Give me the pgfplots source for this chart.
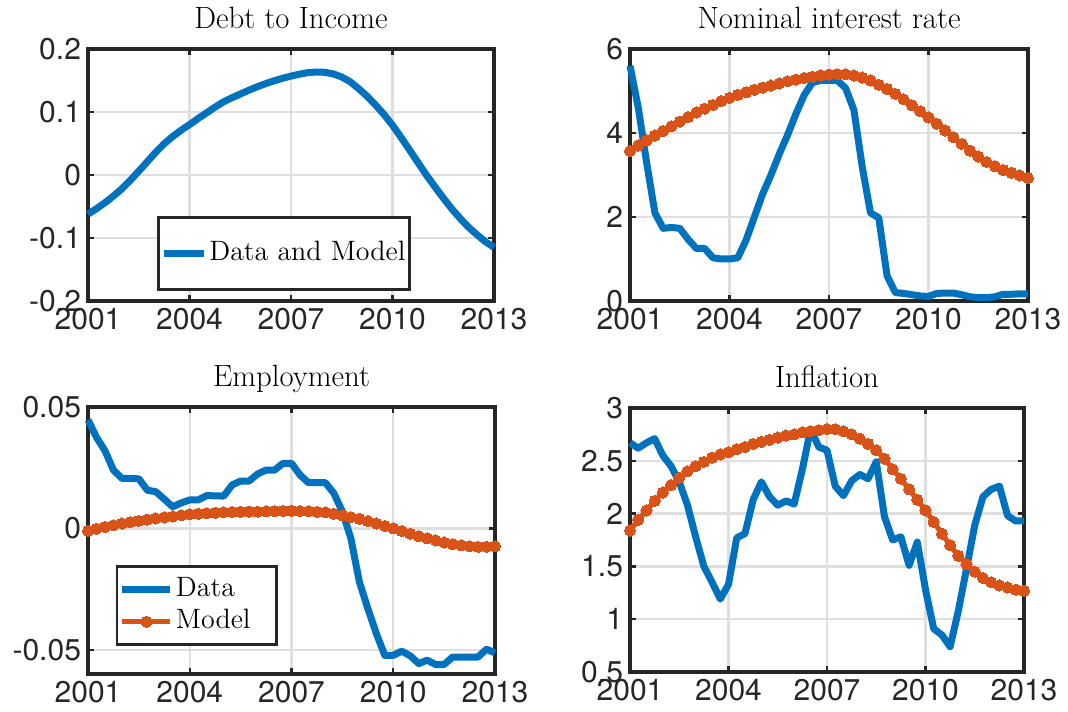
\documentclass[border=0pt]{standalone}
\usepackage{fontspec}
\usepackage{pgfplots}
\usepackage{pgfplotstable}
\pgfplotsset{compat=1.18}
\newfontfamily\helv{TeX Gyre Heros}
\definecolor{mblue}{HTML}{0072BD}
\definecolor{morange}{HTML}{D95319}
\definecolor{axgray}{HTML}{262626}
\definecolor{gridgray}{HTML}{DFDFDF}

% quarterly series, 2001Q1--2013Q1
\pgfplotstableread{
t       data
2001.00 -0.0620
2001.25 -0.0535
2001.50 -0.0440
2001.75 -0.0335
2002.00 -0.0220
2002.25 -0.0085
2002.50 0.0060
2002.75 0.0210
2003.00 0.0360
2003.25 0.0495
2003.50 0.0610
2003.75 0.0710
2004.00 0.0800
2004.25 0.0895
2004.50 0.0985
2004.75 0.1075
2005.00 0.1160
2005.25 0.1225
2005.50 0.1285
2005.75 0.1345
2006.00 0.1400
2006.25 0.1450
2006.50 0.1495
2006.75 0.1535
2007.00 0.1570
2007.25 0.1600
2007.50 0.1625
2007.75 0.1635
2008.00 0.1630
2008.25 0.1605
2008.50 0.1555
2008.75 0.1480
2009.00 0.1370
2009.25 0.1250
2009.50 0.1110
2009.75 0.0960
2010.00 0.0790
2010.25 0.0600
2010.50 0.0400
2010.75 0.0200
2011.00 0.0000
2011.25 -0.0185
2011.50 -0.0365
2011.75 -0.0535
2012.00 -0.0690
2012.25 -0.0830
2012.50 -0.0950
2012.75 -0.1060
2013.00 -0.1150
}\debttab

\pgfplotstableread{
t       data  model
2001.00 5.60  3.57
2001.25 4.60  3.70
2001.50 3.30  3.82
2001.75 2.10  3.94
2002.00 1.73  4.05
2002.25 1.75  4.16
2002.50 1.73  4.27
2002.75 1.47  4.38
2003.00 1.25  4.49
2003.25 1.25  4.58
2003.50 1.03  4.67
2003.75 1.00  4.76
2004.00 1.00  4.84
2004.25 1.03  4.91
2004.50 1.45  4.97
2004.75 2.00  5.03
2005.00 2.55  5.08
2005.25 3.00  5.13
2005.50 3.50  5.18
2005.75 3.95  5.23
2006.00 4.45  5.27
2006.25 4.90  5.31
2006.50 5.20  5.34
2006.75 5.25  5.37
2007.00 5.25  5.39
2007.25 5.25  5.40
2007.50 5.07  5.40
2007.75 4.55  5.37
2008.00 3.20  5.32
2008.25 2.10  5.25
2008.50 1.98  5.15
2008.75 0.60  5.05
2009.00 0.20  4.93
2009.25 0.18  4.80
2009.50 0.15  4.66
2009.75 0.12  4.52
2010.00 0.11  4.37
2010.25 0.18  4.22
2010.50 0.19  4.06
2010.75 0.19  3.90
2011.00 0.15  3.74
2011.25 0.10  3.58
2011.50 0.08  3.44
2011.75 0.08  3.31
2012.00 0.10  3.21
2012.25 0.16  3.12
2012.50 0.16  3.05
2012.75 0.17  2.99
2013.00 0.17  2.93
}\nomtab

\pgfplotstableread{
t       data     model
2001.00 0.0447  -0.0010
2001.25 0.0375  -0.0002
2001.50 0.0320   0.0006
2001.75 0.0240   0.0013
2002.00 0.0206   0.0020
2002.25 0.0206   0.0026
2002.50 0.0204   0.0031
2002.75 0.0157   0.0036
2003.00 0.0151   0.0041
2003.25 0.0120   0.0045
2003.50 0.0089   0.0049
2003.75 0.0105   0.0054
2004.00 0.0117   0.0058
2004.25 0.0117   0.0060
2004.50 0.0135   0.0062
2004.75 0.0134   0.0064
2005.00 0.0133   0.0066
2005.25 0.0179   0.0067
2005.50 0.0195   0.0068
2005.75 0.0195   0.0069
2006.00 0.0224   0.0069
2006.25 0.0240   0.0070
2006.50 0.0240   0.0071
2006.75 0.0268   0.0072
2007.00 0.0268   0.0072
2007.25 0.0220   0.0071
2007.50 0.0188   0.0070
2007.75 0.0188   0.0068
2008.00 0.0188   0.0066
2008.25 0.0144   0.0060
2008.50 0.0069   0.0053
2008.75 -0.0041  0.0046
2009.00 -0.0220  0.0039
2009.25 -0.0330  0.0030
2009.50 -0.0433  0.0020
2009.75 -0.0523  0.0010
2010.00 -0.0523  0.0000
2010.25 -0.0506 -0.0011
2010.50 -0.0525 -0.0022
2010.75 -0.0557 -0.0032
2011.00 -0.0543 -0.0041
2011.25 -0.0561 -0.0050
2011.50 -0.0561 -0.0058
2011.75 -0.0530 -0.0065
2012.00 -0.0530 -0.0070
2012.25 -0.0530 -0.0074
2012.50 -0.0530 -0.0076
2012.75 -0.0498 -0.0076
2013.00 -0.0513 -0.0074
}\emptab

\pgfplotstableread{
t       data  model
2001.00 2.67  1.84
2001.25 2.62  1.94
2001.50 2.67  2.03
2001.75 2.71  2.12
2002.00 2.55  2.20
2002.25 2.45  2.27
2002.50 2.30  2.34
2002.75 2.08  2.40
2003.00 1.78  2.45
2003.25 1.50  2.49
2003.50 1.35  2.53
2003.75 1.19  2.56
2004.00 1.33  2.58
2004.25 1.77  2.61
2004.50 1.81  2.63
2004.75 2.13  2.66
2005.00 2.30  2.68
2005.25 2.16  2.70
2005.50 2.08  2.72
2005.75 2.12  2.74
2006.00 2.09  2.75
2006.25 2.42  2.77
2006.50 2.80  2.78
2006.75 2.63  2.79
2007.00 2.60  2.80
2007.25 2.26  2.80
2007.50 2.17  2.78
2007.75 2.31  2.75
2008.00 2.37  2.71
2008.25 2.33  2.66
2008.50 2.49  2.60
2008.75 1.97  2.52
2009.00 1.75  2.42
2009.25 1.78  2.33
2009.50 1.51  2.23
2009.75 1.73  2.13
2010.00 1.28  2.03
2010.25 0.91  1.92
2010.50 0.85  1.81
2010.75 0.74  1.70
2011.00 1.08  1.60
2011.25 1.48  1.52
2011.50 1.89  1.45
2011.75 2.16  1.39
2012.00 2.23  1.35
2012.25 2.26  1.32
2012.50 1.98  1.30
2012.75 1.93  1.28
2013.00 1.93  1.27
}\inftab

\pgfplotsset{
  panel/.style={
    scale only axis, anchor=south west,
    xmin=2001, xmax=2013,
    xtick={2001,2004,2007,2010,2013},
    xticklabels={2001,2004,2007,2010,2013},
    scaled y ticks=false,
    tick align=inside, major tick length=3pt,
    axis line style={axgray, line width=1.8pt},
    every tick/.style={axgray, line width=1.2pt},
    grid=major, major grid style={gridgray, line width=1.2pt},
    tick label style={font=\helv\fontsize{15}{15}\selectfont, text=axgray},
    title style={font=\fontsize{15.4}{16}\selectfont, at={(0.5,1)}, anchor=base, yshift=4pt},
    clip=false,
    legend cell align=left,
    legend style={draw=axgray, line width=1.3pt, fill=white,
      font=\fontsize{14}{16}\selectfont, anchor=south west, inner xsep=1pt,
      nodes={text height=10pt, text depth=3pt, inner ysep=1.5pt, inner xsep=1pt}},
    legend image code/.code={\draw[mark repeat=2, mark phase=2]
      plot coordinates {(0pt,0pt) (10pt,0pt) (20pt,0pt)};},
  },
  datal/.style={mblue, line width=3.5pt, line join=round},
  modell/.style={morange, line width=2.6pt, line join=round, mark=*, mark size=2.8pt,
    mark options={fill=morange, draw=morange, line width=0pt}},
}

\begin{document}
\begin{tikzpicture}
\begin{axis}[panel, at={(44pt,205pt)}, width=203pt, height=126pt,
    title={Debt to Income},
    ymin=-0.2, ymax=0.2,
    ytick={-0.2,-0.1,0,0.1,0.2}, yticklabels={-0.2,-0.1,0,0.1,0.2},
    legend style={at={(0.170,0.040)}, inner ysep=10pt}]
  \addplot[datal] table[x=t, y=data] {\debttab};
  \addlegendentry{Data and Model}
\end{axis}

\begin{axis}[panel, at={(315pt,205pt)}, width=199pt, height=126pt,
    title={Nominal interest rate},
    ymin=0, ymax=6,
    ytick={0,2,4,6}, yticklabels={0,2,4,6}]
  \addplot[datal] table[x=t, y=data] {\nomtab};
  \addplot[modell] table[x=t, y=model] {\nomtab};
\end{axis}

\begin{axis}[panel, at={(44pt,18.5pt)}, width=203.5pt, height=133.5pt,
    title={Employment},
    ymin=-0.06, ymax=0.05,
    ytick={-0.05,0,0.05}, yticklabels={-0.05,0,0.05},
    legend style={at={(0.068,0.105)}, inner ysep=3.5pt},
    legend image code/.code={\draw[mark repeat=2, mark phase=2]
      plot coordinates {(0pt,0pt) (12pt,0pt) (24pt,0pt)};}]
  \addplot[datal] table[x=t, y=data] {\emptab};
  \addlegendentry{Data}
  \addplot[modell] table[x=t, y=model] {\emptab};
  \addlegendentry{Model\hspace*{11pt}}
\end{axis}

\begin{axis}[panel, at={(315pt,19.5pt)}, width=197pt, height=132pt,
    title={Inflation},
    ymin=0.5, ymax=3,
    ytick={0.5,1,1.5,2,2.5,3}, yticklabels={0.5,1,1.5,2,2.5,3}]
  \addplot[datal] table[x=t, y=data] {\inftab};
  \addplot[modell] table[x=t, y=model] {\inftab};
\end{axis}
\pgfresetboundingbox
\useasboundingbox (0,0) rectangle (534pt,355.5pt);
\end{tikzpicture}
\end{document}
